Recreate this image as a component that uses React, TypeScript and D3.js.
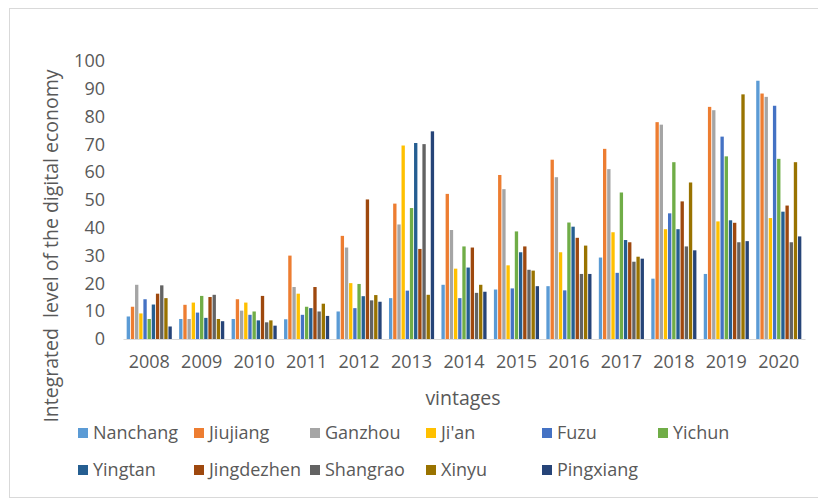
import { useEffect, useRef } from "react";
import * as d3 from "d3";

// years on the x axis
const years = ["2008", "2009", "2010", "2011", "2012", "2013", "2014", "2015", "2016", "2017", "2018", "2019", "2020"];

const cities = ["Nanchang", "Jiujiang", "Ganzhou", "Ji'an", "Fuzu", "Yichun", "Yingtan", "Jingdezhen", "Shangrao", "Xinyu", "Pingxiang"];

const cityColors = ["#5B9BD5", "#ED7D31", "#A5A5A5", "#FFC000", "#4472C4", "#70AD47", "#255E91", "#9E480E", "#636363", "#997300", "#264478"];

// values per city, 2008..2020
const nanchang = [8.1, 7.2, 7.2, 7.1, 9.9, 14.7, 19.5, 17.8, 19.0, 29.3, 21.7, 23.4, 92.9];
const jiujiang = [11.6, 12.3, 14.3, 30.0, 37.1, 48.7, 52.2, 59.0, 64.5, 68.4, 78.0, 83.5, 88.3];
const ganzhou = [19.5, 7.2, 10.2, 18.7, 32.9, 41.2, 39.2, 53.9, 58.2, 61.1, 77.1, 82.3, 87.1];
const jian = [9.2, 13.1, 13.1, 16.3, 20.1, 69.6, 25.3, 26.5, 31.2, 38.4, 39.5, 42.3, 43.5];
const fuzu = [14.3, 9.5, 8.7, 8.7, 11.1, 17.4, 14.7, 18.2, 17.5, 23.8, 45.2, 72.8, 83.9];
const yichun = [7.2, 15.5, 9.9, 11.6, 19.8, 47.1, 33.3, 38.7, 41.9, 52.7, 63.6, 65.7, 64.8];
const yingtan = [12.4, 7.6, 6.7, 11.1, 15.4, 70.5, 25.7, 31.2, 40.4, 35.6, 39.5, 42.7, 45.8];
const jingdezhen = [16.3, 15.1, 15.5, 18.7, 50.2, 32.4, 32.9, 33.3, 36.4, 34.8, 49.5, 41.8, 48.0];
const shangrao = [19.3, 15.9, 6.0, 9.9, 13.9, 70.1, 16.6, 24.9, 23.4, 27.8, 33.3, 34.8, 34.8];
const xinyu = [14.7, 7.2, 6.7, 12.7, 15.8, 15.9, 19.5, 24.6, 33.6, 29.6, 56.3, 88.0, 63.6];
const pingxiang = [4.5, 6.4, 4.8, 8.3, 13.4, 74.7, 17.0, 19.0, 23.4, 28.9, 31.9, 35.2, 36.9];

const series = [nanchang, jiujiang, ganzhou, jian, fuzu, yichun, yingtan, jingdezhen, shangrao, xinyu, pingxiang];

const yTicks = [0, 10, 20, 30, 40, 50, 60, 70, 80, 90, 100];

const font = "'Open Sans', sans-serif";
const textColor = "#595959";

const App = () => {
  const ref = useRef<SVGSVGElement | null>(null);

  useEffect(() => {
    if (!ref.current) return;
    const svg = d3.select(ref.current);
    svg.selectAll("*").remove();

    const width = 818;
    const height = 501;
    const margins = { top: 61, right: 13, bottom: 162, left: 123 };

    // chart frame
    svg
      .append("rect")
      .attr("x", 9.5)
      .attr("y", 8.5)
      .attr("width", 830)
      .attr("height", 489)
      .attr("fill", "#fff")
      .attr("stroke", "#D9D9D9");

    const x0 = d3
      .scaleBand<string>()
      .domain(years)
      .range([margins.left, width - margins.right])
      .paddingInner(0.14)
      .paddingOuter(0.07);

    const x1 = d3
      .scaleBand<number>()
      .domain(d3.range(cities.length))
      .range([0, x0.bandwidth()])
      .paddingInner(0.2);

    const y = d3
      .scaleLinear()
      .domain([0, 100])
      .range([height - margins.bottom - 0, margins.top]);

    // bars
    const groups = svg
      .append("g")
      .selectAll("g")
      .data(years)
      .join("g")
      .attr("transform", (d) => `translate(${x0(d)},0)`);

    groups
      .selectAll("rect")
      .data((_, i) => series.map((s, k) => ({ k, v: s[i] })))
      .join("rect")
      .attr("x", (d) => x1(d.k)!)
      .attr("y", (d) => y(d.v))
      .attr("width", x1.bandwidth())
      .attr("height", (d) => y(0) - y(d.v))
      .attr("fill", (d) => cityColors[d.k]);

    // x axis
    svg
      .append("g")
      .attr("transform", `translate(0,${y(0)})`)
      .call(d3.axisBottom(x0).tickSize(0).tickPadding(16))
      .call((g) => g.select(".domain").attr("stroke", "#D9D9D9"))
      .selectAll("text")
      .attr("fill", textColor)
      .style("font-family", font)
      .style("font-size", "18px");

    // y axis, labels only
    svg
      .append("g")
      .attr("transform", `translate(${margins.left - 18},0)`)
      .call(d3.axisLeft(y).tickValues(yTicks).tickSize(0).tickPadding(0))
      .call((g) => g.select(".domain").remove())
      .selectAll("text")
      .attr("fill", textColor)
      .style("font-family", font)
      .style("font-size", "18px");

    // axis titles
    svg
      .append("text")
      .attr("x", 463)
      .attr("y", 405)
      .attr("text-anchor", "middle")
      .attr("fill", textColor)
      .style("font-family", font)
      .style("font-size", "19.5px")
      .text("vintages");

    svg
      .append("text")
      .attr("transform", `translate(58,246) rotate(-90)`)
      .attr("text-anchor", "middle")
      .attr("fill", textColor)
      .style("font-family", font)
      .style("font-size", "19.5px")
      .style("white-space", "pre")
      .text("Integrated  level of the digital economy");

    // legend
    const legend = svg
      .append("g")
      .selectAll("g")
      .data(cities)
      .join("g")
      .attr("transform", (_, i) => `translate(${78 + (i % 6) * 116},${i < 6 ? 433 : 470})`);

    legend
      .append("rect")
      .attr("x", 0)
      .attr("y", -5)
      .attr("width", 10)
      .attr("height", 10)
      .attr("fill", (_, i) => cityColors[i]);

    legend
      .append("text")
      .attr("x", 15)
      .attr("dy", "0.35em")
      .attr("fill", textColor)
      .style("font-family", font)
      .style("font-size", "18px")
      .text((d) => d);
  }, []);

  return (
    <svg
      ref={ref}
      width={818}
      height={501}
      style={{ position: "absolute", left: 0, top: 0, background: "#fff" }}
    />
  );
};

export default App;
